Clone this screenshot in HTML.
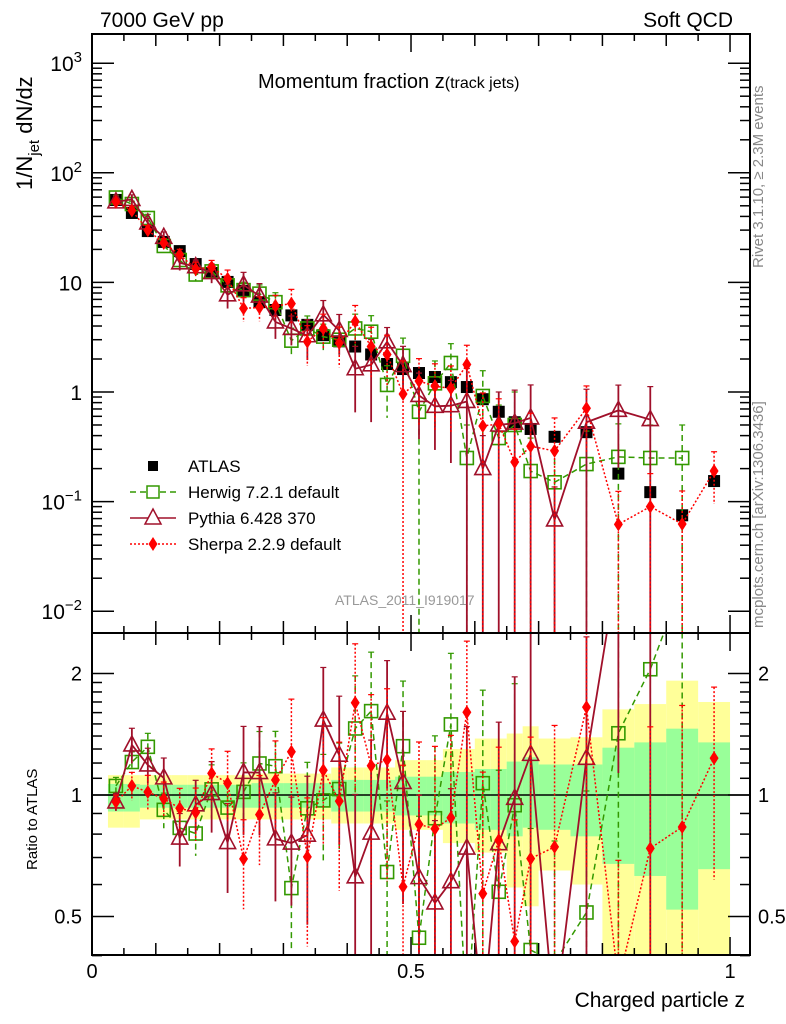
<!DOCTYPE html>
<html><head><meta charset="utf-8"><style>
html,body{margin:0;padding:0;background:#fff;overflow:hidden;width:786px;height:1024px;}
svg{display:block;font-family:"Liberation Sans",sans-serif;overflow:hidden;}
</style></head><body>
<svg id="chart" width="786" height="1024" viewBox="0 0 786 1024" xmlns="http://www.w3.org/2000/svg">
<defs>
<clipPath id="clipMain"><rect x="92" y="34" width="658" height="599"/></clipPath>
<clipPath id="clipRatio"><rect x="92" y="634" width="658" height="321"/></clipPath>
</defs>
<g id="ratioBands" clip-path="url(#clipRatio)"></g>
<g id="axes"></g>
<g id="mainMarks" clip-path="url(#clipMain)"></g>
<g id="ratioMarks" clip-path="url(#clipRatio)"></g>
<rect x="92" y="34" width="658" height="599" fill="none" stroke="#000" stroke-width="2"/>
<rect x="92" y="633" width="658" height="322" fill="none" stroke="#000" stroke-width="2"/>
<text x="100" y="27" font-size="21">7000 GeV pp</text>
<text x="733" y="27" font-size="21" text-anchor="end">Soft QCD</text>
<text x="258" y="88" font-size="20">Momentum fraction z<tspan font-size="16">(track jets)</tspan></text>
<text transform="translate(32,190) rotate(-90)" font-size="22">1/N<tspan font-size="15" dy="7">jet</tspan><tspan dy="-7"> dN/dz</tspan></text>
<text transform="translate(763,268) rotate(-90)" font-size="15" fill="#888">Rivet 3.1.10, ≥ 2.3M events</text>
<text transform="translate(763,628) rotate(-90)" font-size="15" fill="#888">mcplots.cern.ch [arXiv:1306.3436]</text>
<text x="335" y="605" font-size="14" fill="#999">ATLAS_2011_I919017</text>
<text transform="translate(37,870) rotate(-90)" font-size="15">Ratio to ATLAS</text>
<text x="745" y="1007" font-size="21" text-anchor="end">Charged particle z</text>
<g id="legend"></g>
</svg>
<script>
const zCenters=[0.0375,0.0625,0.0875,0.1125,0.1375,0.1625,0.1875,0.2125,0.2375,0.2625,0.2875,0.3125,0.3375,0.3625,0.3875,0.4125,0.4375,0.4625,0.4875,0.5125,0.5375,0.5625,0.5875,0.6125,0.6375,0.6625,0.6875,0.725,0.775,0.825,0.875,0.925,0.975];
const zEdges=[0.025,0.05,0.075,0.1,0.125,0.15,0.175,0.2,0.225,0.25,0.275,0.3,0.325,0.35,0.375,0.4,0.425,0.45,0.475,0.5,0.525,0.55,0.575,0.6,0.625,0.65,0.675,0.7,0.75,0.8,0.85,0.9,0.95,1.0];
const atlasVals=[56.5,43,29.4,23.4,19.3,14.7,12.2,10.1,8.35,6.6,5.6,5.0,4.1,3.3,2.9,2.6,2.2,1.8,1.62,1.49,1.37,1.23,1.11,0.86,0.66,0.53,0.46,0.39,0.43,0.18,0.122,0.075,0.154];
const herwigVals=[59.5,51.9,38.7,21.5,16.0,11.8,12.6,9.4,8.5,7.9,6.6,2.94,3.8,3.2,3.0,3.8,3.55,1.16,2.14,0.66,1.2,1.84,0.25,0.92,0.38,0.50,0.19,0.15,0.22,0.256,0.25,0.25,null];
const herwigErr=[0.05,0.06,0.08,0.1,0.1,0.12,0.15,0.15,0.18,0.2,0.22,0.3,0.3,0.3,0.3,0.35,0.4,0.5,0.45,1.0,0.6,0.5,1.0,0.7,1.0,1.0,1.0,1.0,1.0,1.0,1.0,1.0,null];
const pythiaVals=[54.3,57.2,34.9,25.8,15.1,13.9,12.3,7.7,9.5,7.5,4.36,3.8,3.26,5.06,3.64,1.63,1.77,2.87,1.74,0.93,0.74,0.75,0.82,0.2,0.50,0.52,0.58,0.068,0.53,0.68,0.56,null,null];
const pythiaErr=[0.05,0.1,0.1,0.12,0.15,0.15,0.2,0.25,0.3,0.3,0.3,0.3,0.4,0.35,0.4,0.6,0.7,0.35,0.5,0.6,0.6,0.7,1.0,1.0,1.0,1.0,1.0,1.0,1.0,0.7,1.0,null,null];
const sherpaVals=[54.3,45.3,29.9,22.9,17.9,13.3,13.8,10.8,5.8,5.9,6.1,6.4,2.88,3.8,2.8,4.4,2.6,2.2,0.96,1.26,1.13,1.08,1.78,0.49,0.51,0.23,0.32,0.29,0.71,0.062,0.09,0.0625,0.19];
const sherpaErr=[0.04,0.08,0.1,0.1,0.12,0.15,0.15,0.2,0.25,0.25,0.25,0.35,0.4,0.35,0.4,0.4,0.5,0.5,1.0,0.6,0.6,0.6,0.5,1.0,0.7,1.0,1.0,1.0,0.6,1.0,1.0,1.0,0.5];
const yellowHi=[1.12,1.12,1.12,1.12,1.12,1.12,1.12,1.12,1.12,1.13,1.13,1.13,1.13,1.13,1.17,1.17,1.17,1.17,1.22,1.22,1.22,1.30,1.30,1.38,1.38,1.42,1.48,1.38,1.39,1.63,1.68,1.92,1.70];
const yellowLo=[0.83,0.83,0.87,0.87,0.87,0.87,0.87,0.87,0.87,0.87,0.87,0.87,0.87,0.87,0.85,0.85,0.85,0.85,0.82,0.82,0.82,0.76,0.76,0.72,0.72,0.59,0.53,0.65,0.60,0.30,0.30,0.30,0.30];
const greenHi=[1.065,1.065,1.06,1.06,1.06,1.06,1.06,1.06,1.06,1.07,1.07,1.07,1.07,1.07,1.09,1.09,1.09,1.09,1.11,1.11,1.11,1.14,1.14,1.16,1.16,1.21,1.24,1.19,1.19,1.31,1.35,1.46,1.35];
const greenLo=[0.91,0.91,0.93,0.93,0.93,0.93,0.93,0.93,0.93,0.93,0.93,0.93,0.93,0.93,0.91,0.91,0.91,0.91,0.89,0.89,0.89,0.85,0.85,0.82,0.82,0.79,0.83,0.82,0.79,0.675,0.63,0.52,0.655];
const xTickLabels=["0","0.5","1"];
const xTickVals=[0,0.5,1];
const mainTickVals=[1000,100,10,1,0.1,0.01];
const ratioTickVals=[0.5,1,2];
const ratioTickLabels=["0.5","1","2"];

const NS="http://www.w3.org/2000/svg";
const X0=92,X1=750,ZMAX=1.0313;
function xs(z){return X0+(z/ZMAX)*(X1-X0);}
function ym(v){return 392-Math.log10(v)*109.6;}
function yr(r){return 795-Math.log2(r)*121.5;}
const YM_BOTTOM=640, YR_BOTTOM=965;
function clampY(y){return Math.max(2,Math.min(1020,y));}
function mk(tag,attrs,parent){const e=document.createElementNS(NS,tag);for(const k in attrs)e.setAttribute(k,attrs[k]);parent.appendChild(e);return e;}
function safeY(f,v,bottom){return (v==null||v<=0)?bottom:clampY(f(v));}

const bandG=document.getElementById('ratioBands');
for(let i=0;i<zCenters.length;i++){
  const x=xs(zEdges[i]),w=xs(zEdges[i+1])-x;
  const yt=clampY(yr(yellowHi[i])),yb=Math.min(960,yr(yellowLo[i]));
  const y1=mk('rect',{x:x,y:yt,width:w,height:yb-yt,fill:'#ffff99'},bandG);
  
  
}
for(let i=0;i<zCenters.length;i++){
  const x=xs(zEdges[i]),w=xs(zEdges[i+1])-x;
  const yt=yr(greenHi[i]),yb=Math.min(960,yr(greenLo[i]));
  const g1=mk('rect',{x:x,y:yt,width:w,height:yb-yt,fill:'#99ff99'},bandG);
  
  
}
const one=mk('line',{x1:X0,x2:X1,y1:yr(1),y2:yr(1),stroke:'#000','stroke-width':1.5},bandG);



const ax=document.getElementById('axes');
function tick(x1,y1,x2,y2){const l=mk('line',{x1:x1,y1:y1,x2:x2,y2:y2,stroke:'#000','stroke-width':1.5},ax);}
for(let k=0;k<=20;k++){
  const z=k*0.05,x=xs(z);
  const len=(k%10===0)?18:(k%2===0?12:7);
  tick(x,34,x,34+len);tick(x,633,x,633-len);tick(x,633,x,633+len);tick(x,955,x,955-len);
}
for(let d=-2;d<=3;d++){
  for(let m=1;m<10;m++){
    const v=m*Math.pow(10,d);const y=ym(v);
    if(y<36||y>631)continue;
    const len=m===1?22:10;
    tick(X0,y,X0+len,y);tick(X1,y,X1-len,y);
  }
}
const rMinor=[0.4,0.5,0.6,0.7,0.8,0.9,1,1.1,1.2,1.3,1.4,1.5,1.6,1.7,1.8,1.9,2];
rMinor.forEach(r=>{const y=yr(r);const len=(r===0.5||r===1||r===2)?22:10;tick(X0,y,X0+len,y);tick(X1,y,X1-len,y);});
const tl=[["10","3"],["10","2"],["10",""],["1",""],["10","−1"],["10","−2"]];
mainTickVals.forEach((v,i)=>{
  const t=mk('text',{x:82,y:ym(v)+8,'font-size':21,'text-anchor':'end'},ax);
  
  
  t.textContent=tl[i][0];
  if(tl[i][1]){const s=mk('tspan',{'font-size':15,dy:-9},t);s.textContent=tl[i][1];}
});
ratioTickVals.forEach((r,i)=>{
  const a=mk('text',{x:82,y:yr(r)+7,'font-size':20,'text-anchor':'end'},ax);
  
  
  a.textContent=ratioTickLabels[i];
  const b=mk('text',{x:758,y:yr(r)+7,'font-size':20},ax);
  
  
  b.textContent=ratioTickLabels[i];
});
xTickVals.forEach((z,i)=>{
  const t=mk('text',{x:xs(z),y:978,'font-size':20,'text-anchor':'middle'},ax);
  
  
  t.textContent=xTickLabels[i];
});

function marker(kind,x,y,g,color){
  let e;
  if(kind==='sq') e=mk('rect',{x:x-6,y:y-6,width:12,height:12,fill:'#000'},g);
  else if(kind==='osq') e=mk('rect',{x:x-6.5,y:y-6.5,width:13,height:13,fill:'none',stroke:color,'stroke-width':1.6},g);
  else if(kind==='tri') e=mk('polygon',{points:`${x},${y-9} ${x-8},${y+6} ${x+8},${y+6}`,fill:'none',stroke:color,'stroke-width':1.6},g);
  else e=mk('polygon',{points:`${x},${y-7} ${x+4.5},${y} ${x},${y+7} ${x-4.5},${y}`,fill:color},g);
  return e;
}
const mainG=document.getElementById('mainMarks'), ratG=document.getElementById('ratioMarks');
const series=[
  {name:'herwig',vals:herwigVals,err:herwigErr,color:'#339900',dash:'6,4',kind:'osq',w:1.5},
  {name:'pythia',vals:pythiaVals,err:pythiaErr,color:'#a0102a',dash:'',kind:'tri',w:1.8},
  {name:'sherpa',vals:sherpaVals,err:sherpaErr,color:'#ff0000',dash:'2,2',kind:'dia',w:1.5}
];
atlasVals.forEach((v,i)=>{
  const m=marker('sq',xs(zCenters[i]),ym(v),mainG);
  
  
});
series.forEach(s=>{
  for(const panel of ['main','ratio']){
    const g=panel==='main'?mainG:ratG;
    const f=panel==='main'?ym:yr;
    const bottom=panel==='main'?YM_BOTTOM:YR_BOTTOM;
    const pts=[];
    s.vals.forEach((v,i)=>{
      if(v==null)return;
      const val=panel==='main'?v:v/atlasVals[i];
      pts.push([xs(zCenters[i]),clampY(f(val)),val,s.err[i]]);
    });
    const pl=mk('polyline',{points:pts.map(p=>p[0]+','+p[1]).join(' '),fill:'none',stroke:s.color,'stroke-width':s.w,'stroke-dasharray':s.dash},g);
    
    
    pts.forEach(p=>{
      if(p[1]<=2||p[1]>=1020)return;
      const lo=p[2]*(1-p[3]),hi=p[2]*(1+p[3]);
      const yl=safeY(f,lo,bottom),yh=clampY(f(hi));
      const eb=mk('line',{x1:p[0],x2:p[0],y1:yh,y2:yl,stroke:s.color,'stroke-width':s.w,'stroke-dasharray':s.dash},g);
      
      
      mk('line',{x1:p[0]-3,x2:p[0]+3,y1:yh,y2:yh,stroke:s.color,'stroke-width':1.2},g);
      const m=marker(s.kind,p[0],p[1],g,s.color);
      if(s.kind!=='dia')m.setAttribute('fill','none');
      
      
    });
  }
});

const lg=document.getElementById('legend');
const entries=[['ATLAS','sq','#000',''],['Herwig 7.2.1 default','osq','#339900','6,4'],['Pythia 6.428 370','tri','#a0102a',''],['Sherpa 2.2.9 default','dia','#ff0000','2,2']];
entries.forEach((e,i)=>{
  const y=466+i*26;
  const g=mk('g',{},lg);
  
  
  if(i>0)mk('line',{x1:130,x2:176,y1:y,y2:y,stroke:e[2],'stroke-width':1.5,'stroke-dasharray':e[3]},g);
  if(e[1]==='osq')mk('rect',{x:147,y:y-6,width:12,height:12,fill:'#fff',stroke:e[2],'stroke-width':1.5},g);
  else if(e[1]==='tri')mk('polygon',{points:`153,${y-9} 145,${y+6} 161,${y+6}`,fill:'#fff',stroke:e[2],'stroke-width':1.5},g);
  else if(e[1]==='sq')mk('rect',{x:148,y:y-5,width:10,height:10,fill:'#000'},g);
  else marker('dia',153,y,g,e[2]);
  const t=mk('text',{x:188,y:y+6,'font-size':17},g);
  t.textContent=e[0];
});
</script>
</body></html>
